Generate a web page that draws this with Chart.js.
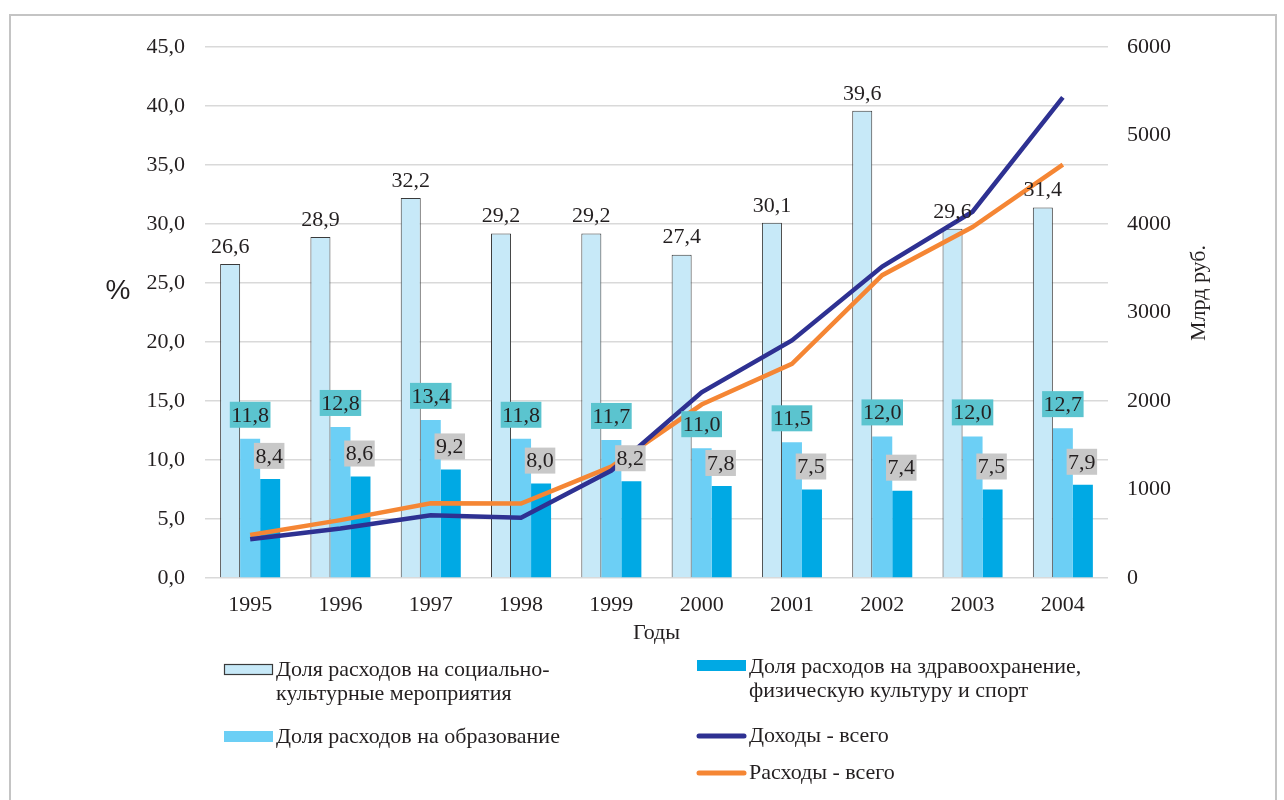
<!DOCTYPE html>
<html><head><meta charset="utf-8">
<script src="https://cdn.jsdelivr.net/npm/chart.js@4.4.0/dist/chart.umd.min.js"></script>
<style>html,body{margin:0;padding:0;background:#fff;}canvas{display:block;}</style>
</head><body>
<canvas id="c" width="1284" height="800"></canvas>
<script>
const years = ['1995','1996','1997','1998','1999','2000','2001','2002','2003','2004'];
const socialShare = [26.6,28.9,32.2,29.2,29.2,27.4,30.1,39.6,29.6,31.4];
const educationShare = [11.8,12.8,13.4,11.8,11.7,11.0,11.5,12.0,12.0,12.7];
const healthShare = [8.4,8.6,9.2,8.0,8.2,7.8,7.5,7.4,7.5,7.9];
const revenueTotal = [437,560,710,680,1214,2098,2684,3519,4139,5430];
const expenseTotal = [486,654,844,842,1258,1960,2419,3422,3965,4670];
const leftAxis = {min:0, max:45, step:5};
const rightAxis = {min:0, max:6000, step:1000};

const SERIF = '"Liberation Serif", "Times New Roman", serif';
const TXT = '#231f20';
const fmt = v => v.toFixed(1).replace('.', ',');

const labelCfg = {
  0: {rise:18, dx:0, bg:null},
  1: {rise:24, dx:0, bg:'#5bc4cf'},
  2: {rise:23, dx:-1, bg:'#c8c8c8'}
};

const labelPlugin = {
  id:'barLabels',
  afterDatasetsDraw(chart){
    const ctx = chart.ctx;
    ctx.save();
    ctx.font = '22px ' + SERIF;
    ctx.textAlign = 'center';
    ctx.textBaseline = 'middle';
    Object.keys(labelCfg).forEach(k => {
      const di = +k, st = labelCfg[k];
      const meta = chart.getDatasetMeta(di);
      const data = chart.data.datasets[di].data;
      meta.data.forEach((el, i) => {
        const txt = fmt(data[i]);
        const x = el.x + st.dx, y = el.y - st.rise;
        if (st.bg) {
          const w = ctx.measureText(txt).width + 3;
          ctx.fillStyle = st.bg;
          ctx.fillRect(x - w/2, y - 13, w, 26);
        }
        ctx.fillStyle = TXT;
        ctx.fillText(txt, x, y + 1);
      });
    });
    ctx.restore();
  }
};

const decorPlugin = {
  id:'decor',
  beforeDraw(chart){
    const ctx = chart.ctx;
    ctx.save();
    ctx.fillStyle = '#fff';
    ctx.fillRect(0,0,chart.width,chart.height);
    ctx.strokeStyle = '#c4c4c4';
    ctx.lineWidth = 2;
    ctx.strokeRect(10, 15, 1266, 800);
    ctx.restore();
  },
  afterDraw(chart){
    const ctx = chart.ctx, ca = chart.chartArea;
    ctx.save();
    ctx.fillStyle = TXT;
    ctx.textBaseline = 'middle';
    ctx.textAlign = 'center';
    ctx.font = '28px "Liberation Sans", Arial, sans-serif';
    ctx.fillText('%', 118, 291);
    ctx.font = '22px ' + SERIF;
    ctx.fillText('Годы', (ca.left + ca.right)/2, 633);
    ctx.save();
    ctx.translate(1199, 293);
    ctx.rotate(-Math.PI/2);
    ctx.fillText('Млрд руб.', 0, 0);
    ctx.restore();

    // legend
    ctx.textAlign = 'left';
    ctx.font = '22px ' + SERIF;
    const ds = chart.data.datasets;
    const box = (x, y, d) => {
      ctx.fillStyle = d.backgroundColor;
      ctx.fillRect(x, y, 49, 11);
      if (d.borderWidth) {
        ctx.strokeStyle = d.borderColor; ctx.lineWidth = 1.2;
        ctx.strokeRect(x+0.5, y+0.5, 48, 10);
      }
    };
    const line = (x, y, d) => {
      ctx.strokeStyle = d.borderColor; ctx.lineWidth = 5; ctx.lineCap = 'round';
      ctx.beginPath(); ctx.moveTo(x+2, y); ctx.lineTo(x+47, y); ctx.stroke();
    };
    const text = (lines, x, y) => {
      ctx.fillStyle = TXT;
      lines.forEach((t, i) => ctx.fillText(t, x, y + i*24));
    };
    box(224, 664, ds[0]); text(['Доля расходов на социально-', 'культурные мероприятия'], 276, 670);
    box(224, 731, ds[1]); text(['Доля расходов на образование'], 276, 737);
    box(697, 660, ds[2]); text(['Доля расходов на здравоохранение,', 'физическую культуру и спорт'], 749, 667);
    line(697, 736, ds[3]); text(['Доходы - всего'], 749, 736);
    line(697, 773, ds[4]); text(['Расходы - всего'], 749, 773);
    ctx.restore();
  }
};

new Chart(document.getElementById('c'), {
  data: {
    labels: years,
    datasets: [
      {type:'bar', label:'Доля расходов на социально-культурные мероприятия', data:socialShare, yAxisID:'y',
       backgroundColor:'#c7e9f8', borderColor:'#3a3a3a', borderWidth:1, order:2,
       categoryPercentage:0.665, barPercentage:1.0},
      {type:'bar', label:'Доля расходов на образование', data:educationShare, yAxisID:'y',
       backgroundColor:'#6ccff5', borderWidth:0, order:2,
       categoryPercentage:0.665, barPercentage:1.0},
      {type:'bar', label:'Доля расходов на здравоохранение, физическую культуру и спорт', data:healthShare, yAxisID:'y',
       backgroundColor:'#00a9e4', borderWidth:0, order:2,
       categoryPercentage:0.665, barPercentage:1.0},
      {type:'line', label:'Доходы - всего', data:revenueTotal, yAxisID:'y1',
       borderColor:'#2e3192', backgroundColor:'#2e3192', borderWidth:4.5, pointRadius:0, tension:0, order:0},
      {type:'line', label:'Расходы - всего', data:expenseTotal, yAxisID:'y1',
       borderColor:'#f58634', backgroundColor:'#f58634', borderWidth:4.5, pointRadius:0, tension:0, order:1}
    ]
  },
  options: {
    responsive:false, animation:false, devicePixelRatio:1,
    layout:{padding:{top:47, left:0, right:0, bottom:152}},
    plugins:{legend:{display:false}, tooltip:{enabled:false}},
    scales:{
      x:{
        grid:{display:false, drawTicks:false}, border:{display:false},
        ticks:{color:TXT, font:{family:SERIF, size:22}, padding:14, maxRotation:0},
        afterFit:s=>{s.height = 70;}
      },
      y:{
        position:'left', min:leftAxis.min, max:leftAxis.max,
        grid:{color:'#d9d9d9', lineWidth:1.5, drawTicks:false}, border:{display:false},
        ticks:{stepSize:leftAxis.step, color:TXT, font:{family:SERIF, size:22}, padding:20, callback:v=>fmt(v)},
        afterFit:s=>{s.width = 205;}
      },
      y1:{
        position:'right', min:rightAxis.min, max:rightAxis.max,
        grid:{display:false, drawTicks:false}, border:{display:false},
        ticks:{stepSize:rightAxis.step, color:TXT, font:{family:SERIF, size:22}, padding:19, callback:v=>String(v)},
        afterFit:s=>{s.width = 176;}
      }
    }
  },
  plugins:[labelPlugin, decorPlugin]
});
</script>
</body></html>
